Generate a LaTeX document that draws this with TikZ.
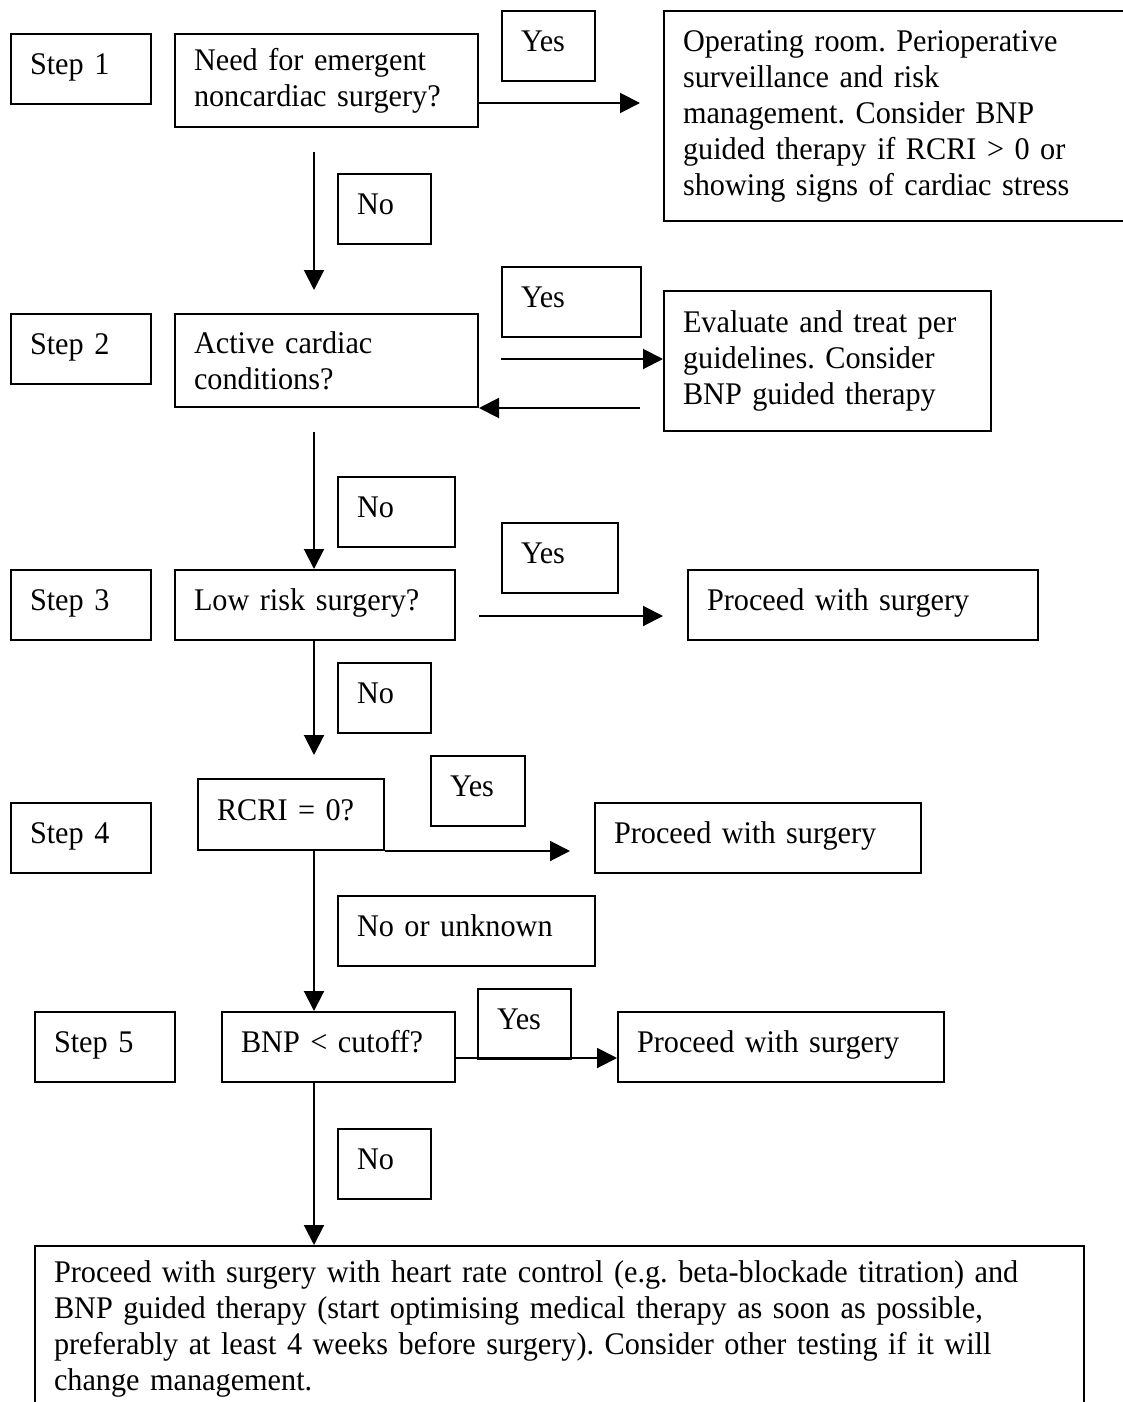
\documentclass[tikz,border=0pt]{standalone}
\usepackage{fontspec}
\setmainfont[FakeStretch=0.96]{Liberation Serif}
\usetikzlibrary{arrows.meta}
\frenchspacing

\begin{document}
\begin{tikzpicture}[x=1pt, y=-1pt, line width=2pt,
    font=\fontsize{31.5}{36}\selectfont,
    box/.style={draw, rectangle, anchor=north west, align=left, inner xsep=19pt, inner ysep=0pt},
    oneline/.style={text height=24pt, text depth=13pt},
    arr/.style={-{Triangle[length=20pt, width=20pt]}}]
    \useasboundingbox (0,0) rectangle (1123,1402);

    % Step 1
    \node[box, oneline, text width=102pt, minimum height=70pt] (step1) at (10,33) {Step 1};
    \node[box, text width=265pt, minimum height=93pt] (need) at (174,33) {Need for emergent\\noncardiac surgery?};
    \node[box, oneline, text width=55pt, minimum height=70pt] (yes1) at (501,10) {Yes};
    \node[box, text width=432pt, minimum height=210pt] (op) at (663,10) {Operating room. Perioperative\\surveillance and risk\\management. Consider BNP\\guided therapy if RCRI > 0 or\\showing signs of cardiac stress};
    \node[box, oneline, text width=55pt, minimum height=70pt] (no1) at (337,173) {No};

    % Step 2
    \node[box, oneline, text width=102pt, minimum height=70pt] (step2) at (10,313) {Step 2};
    \node[box, text width=265pt, minimum height=93pt] (active) at (174,313) {Active cardiac\\conditions?};
    \node[box, oneline, text width=101pt, minimum height=70pt] (yes2) at (501,266) {Yes};
    \node[box, text width=289pt, minimum height=140pt] (eval) at (663,290) {Evaluate and treat per\\guidelines. Consider\\BNP guided therapy};
    \node[box, oneline, text width=79pt, minimum height=70pt] (no2) at (337,476) {No};

    % Step 3
    \node[box, oneline, text width=102pt, minimum height=70pt] (step3) at (10,569) {Step 3};
    \node[box, oneline, text width=242pt, minimum height=70pt] (low) at (174,569) {Low risk surgery?};
    \node[box, oneline, text width=78pt, minimum height=70pt] (yes3) at (501,522) {Yes};
    \node[box, oneline, text width=312pt, minimum height=70pt] (proc3) at (687,569) {Proceed with surgery};
    \node[box, oneline, text width=55pt, minimum height=70pt] (no3) at (337,662) {No};

    % Step 4
    \node[box, oneline, text width=102pt, minimum height=70pt] (step4) at (10,802) {Step 4};
    \node[box, oneline, text width=148pt, minimum height=71pt] (rcri) at (197,778) {RCRI = 0?};
    \node[box, oneline, text width=56pt, minimum height=70pt] (yes4) at (430,755) {Yes};
    \node[box, oneline, text width=288pt, minimum height=70pt] (proc4) at (594,802) {Proceed with surgery};
    \node[box, oneline, text width=219pt, minimum height=70pt] (no4) at (337,895) {No or unknown};

    % Step 5
    \node[box, oneline, text width=102pt, minimum height=70pt] (step5) at (34,1011) {Step 5};
    \node[box, oneline, text width=195pt, minimum height=70pt] (bnp) at (221,1011) {BNP < cutoff?};
    \node[box, oneline, text width=55pt, minimum height=70pt] (yes5) at (477,988) {Yes};
    \node[box, oneline, text width=288pt, minimum height=70pt] (proc5) at (617,1011) {Proceed with surgery};
    \node[box, oneline, text width=55pt, minimum height=70pt] (no5) at (337,1128) {No};

    % Final step
    \node[box, text width=1011pt, minimum height=165pt] (final) at (34,1245) {Proceed with surgery with heart rate control (e.g. beta-blockade titration) and\\BNP guided therapy (start optimising medical therapy as soon as possible,\\preferably at least 4 weeks before surgery). Consider other testing if it will\\change management.};

    % Edges
    \draw[arr, shorten >=23pt] (need.east |- 0,103) -- (op.west |- 0,103);
    \draw[arr, shorten <=24pt, shorten >=23pt] (need.south -| 314,0) -- (active.north -| 314,0);

    \draw[arr, shorten <=22pt] (active.east |- 0,359) -- (eval.west |- 0,359);
    \draw[arr, shorten <=23pt] (eval.west |- active.south east) -- (active.south east);
    \draw[arr, shorten <=24pt] (active.south -| 314,0) -- (low.north -| 314,0);

    \draw[arr, shorten <=23pt, shorten >=24pt] (low.east |- 0,616) -- (proc3.west |- 0,616);
    \draw[arr, shorten >=23pt] (low.south -| 314,0) -- (rcri.north -| 314,0);

    \draw[arr, shorten >=24pt] (rcri.south east) -- (proc4.west |- rcri.south east);
    \draw[arr] (rcri.south -| 314,0) -- (bnp.north -| 314,0);

    \draw[arr] (bnp.east |- 0,1058) -- (proc5.west |- 0,1058);
    \draw[arr] (bnp.south -| 314,0) -- (final.north -| 314,0);
\end{tikzpicture}
\end{document}
